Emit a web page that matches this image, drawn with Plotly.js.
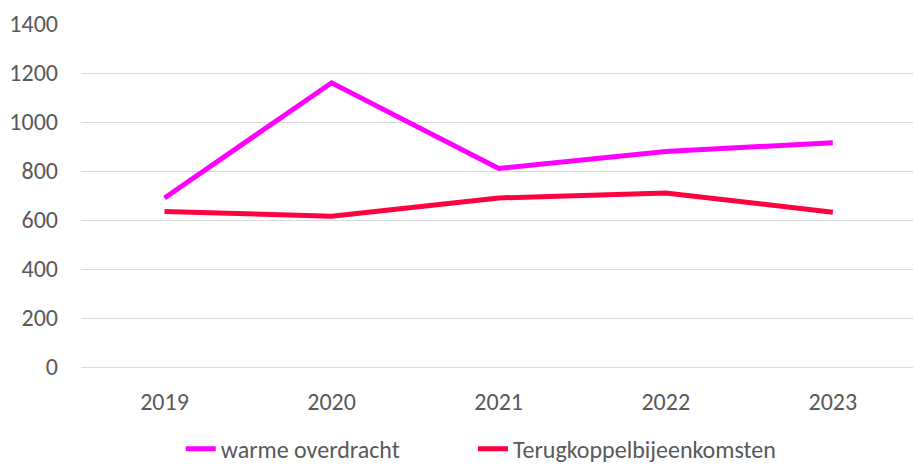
<!DOCTYPE html>
<html>
<head>
<meta charset="utf-8">
<script src="https://cdn.plot.ly/plotly-3.0.1.min.js"></script>
<style>html,body{margin:0;padding:0;background:#fff;}#chart{width:913px;height:464px;}</style>
</head>
<body>
<div id="chart"></div>
<script>
const years = ['2019', '2020', '2021', '2022', '2023'];
const warmeOverdracht = [690, 1160, 810, 880, 915];
const terugkoppel = [635, 615, 690, 710, 632];
const seriesNames = ['warme overdracht', 'Terugkoppelbijeenkomsten'];
const yTicks = [0, 200, 400, 600, 800, 1000, 1200, 1400];

const font = {family: 'Carlito, Calibri, "Open Sans", "Liberation Sans", sans-serif', size: 24, color: '#595959'};

const traces = [
  {x: years, y: warmeOverdracht, name: seriesNames[0], type: 'scatter', mode: 'lines',
   line: {color: '#FF00FF', width: 5}, legend: 'legend'},
  {x: years, y: terugkoppel, name: seriesNames[1], type: 'scatter', mode: 'lines',
   line: {color: '#FF0040', width: 5}, legend: 'legend2'}
];

const legendBase = {orientation: 'h', xref: 'container', xanchor: 'left',
                    yref: 'container', y: 0.032, yanchor: 'middle', font: font};

const layout = {
  width: 913, height: 464,
  margin: {l: 81, r: 0, t: 24, b: 97},
  paper_bgcolor: '#fff', plot_bgcolor: '#fff',
  font: font,
  showlegend: true,
  legend: Object.assign({}, legendBase, {x: 0.198}),
  legend2: Object.assign({}, legendBase, {x: 0.518}),
  xaxis: {type: 'category', range: [-0.5, 4.48], showgrid: false, zeroline: false,
          showline: false, ticks: '', ticklabelstandoff: 18, tickfont: font, fixedrange: true},
  yaxis: {range: [0, 1400], tickvals: yTicks, ticktext: yTicks.map(String),
          showgrid: true, gridcolor: '#d9d9d9', gridwidth: 1, zeroline: true,
          zerolinecolor: '#d9d9d9', zerolinewidth: 1, showline: false, ticks: '',
          ticklabelstandoff: 22, tickfont: font, fixedrange: true}
};

Plotly.newPlot('chart', traces, layout, {displayModeBar: false, staticPlot: true});
</script>
</body>
</html>
